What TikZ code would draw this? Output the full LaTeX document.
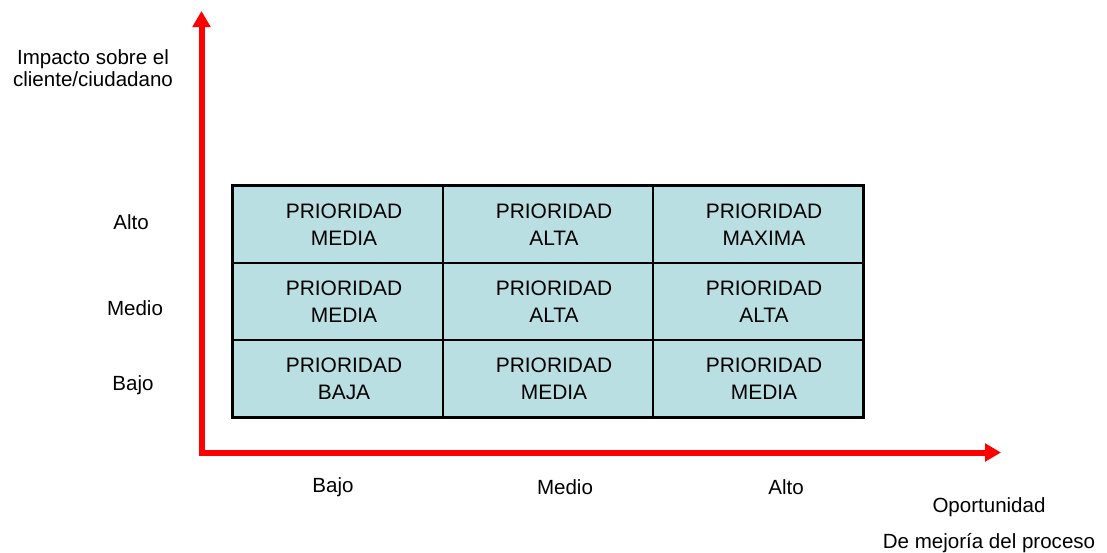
\documentclass[tikz,border=0pt]{standalone}
\usepackage{fontspec}
\setmainfont{Liberation Sans}
\usetikzlibrary{arrows.meta}
\definecolor{cellfill}{RGB}{185,223,227}
\definecolor{axisred}{RGB}{255,0,0}
\newcommand{\cellshift}{\hspace*{9pt}}
\tikzset{
  cell/.style={draw=black, line width=1.1pt, fill=cellfill, minimum width=157.5pt, minimum height=57.75pt, inner sep=0pt, align=center, font=\fontsize{15.7}{20.5}\selectfont},
  lbl/.style={font=\fontsize{15.4}{18}\selectfont, inner sep=0pt, align=center},
  axis/.style={draw=axisred, line width=4.5pt, line join=miter, -{Triangle[length=12pt,width=13pt]}},
}
\begin{document}
\begin{tikzpicture}[x=0.75pt,y=-0.75pt]
\useasboundingbox (0,0) rectangle (1107,553);
% axes
\coordinate (origin) at (201.5,452.5);
\coordinate (ytip) at (201.5,11);
\coordinate (xtip) at (1001,452.5);
\draw[axis] (origin) -- (ytip);
\draw[axis] (origin) -- (xtip);
\fill[axisred] (198.5,449.5) rectangle (204.5,455.5);
% cells
\node[cell] (c11) at (338,224.5) {\cellshift PRIORIDAD\\\cellshift MEDIA};
\node[cell] (c12) at (548,224.5) {\cellshift PRIORIDAD\\\cellshift ALTA};
\node[cell] (c13) at (758,224.5) {\cellshift PRIORIDAD\\\cellshift MAXIMA};
\node[cell] (c21) at (338,301.5) {\cellshift PRIORIDAD\\\cellshift MEDIA};
\node[cell] (c22) at (548,301.5) {\cellshift PRIORIDAD\\\cellshift ALTA};
\node[cell] (c23) at (758,301.5) {\cellshift PRIORIDAD\\\cellshift ALTA};
\node[cell] (c31) at (338,378.5) {\cellshift PRIORIDAD\\\cellshift BAJA};
\node[cell] (c32) at (548,378.5) {\cellshift PRIORIDAD\\\cellshift MEDIA};
\node[cell] (c33) at (758,378.5) {\cellshift PRIORIDAD\\\cellshift MEDIA};
\draw[line width=2.4pt] (c11.north west) rectangle (c33.south east);
% labels
\node[lbl] (yt) at (93,68) {Impacto sobre el\\[-1pt]cliente/ciudadano};
\node[lbl] (ya) at (131,222) {Alto};
\node[lbl] (ym) at (135,308) {Medio};
\node[lbl] (yb) at (133,385) {Bajo};
\node[lbl] (xb) at (333,487) {Bajo};
\node[lbl] (xm) at (565,487) {Medio};
\node[lbl] (xa) at (786,487) {Alto};
\node[lbl] (xt1) at (989,507) {Oportunidad};
\node[lbl] (xt2) at (989,543) {De mejoría del proceso};
\end{tikzpicture}
\end{document}
